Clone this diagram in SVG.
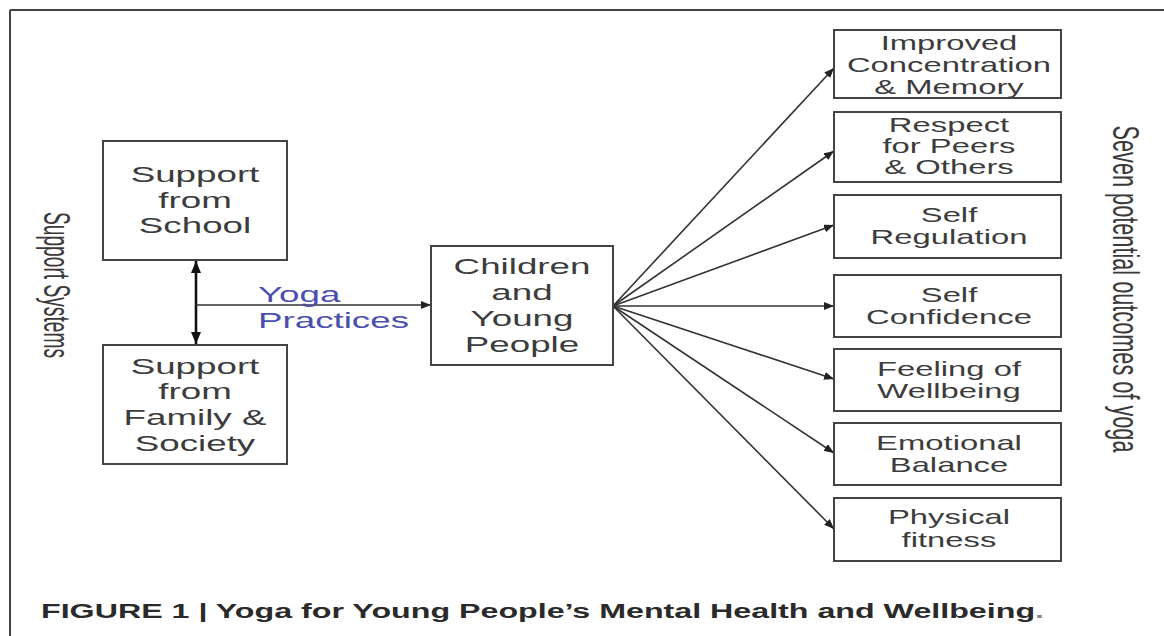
<svg xmlns="http://www.w3.org/2000/svg" width="1164" height="636" viewBox="0 0 1164 636">
  <style>
    .box { fill: #ffffff; stroke: #444444; stroke-width: 2; }
    .lbl { font-family: "Liberation Sans", Arial, sans-serif; fill: #3c3c3c; text-anchor: middle; }
    .big { font-size: 22px; }
    .small { font-size: 20px; }
    .yoga { font-family: "Liberation Sans", Arial, sans-serif; font-size: 22px; fill: #4a4fae; }
    .side { font-family: "Liberation Sans", Arial, sans-serif; font-size: 22px; fill: #3a3a3a; text-anchor: middle; }
    .cap { font-family: "Liberation Sans", Arial, sans-serif; font-size: 20px; font-weight: bold; fill: #2a2a2a; }
    .edge { stroke: #333333; stroke-width: 1.6; fill: none; }
    .frame { stroke: #444444; stroke-width: 2; fill: none; }
  </style>
  <defs>
    <marker id="arrow" viewBox="0 0 10 8" refX="10" refY="4" markerWidth="10" markerHeight="8" markerUnits="userSpaceOnUse" orient="auto">
      <path d="M0,0 L10,4 L0,8 Z" fill="#222222"/>
    </marker>
    <marker id="arrowBold" viewBox="0 0 12 10" refX="12" refY="5" markerWidth="12" markerHeight="10" markerUnits="userSpaceOnUse" orient="auto-start-reverse">
      <path d="M0,0 L12,5 L0,10 Z" fill="#111111"/>
    </marker>
  </defs>

  <rect x="0" y="0" width="1164" height="636" fill="#ffffff"/>

  <!-- figure frame (top and left rules) -->
  <g id="frame">
    <line class="frame" x1="10" y1="10" x2="1164" y2="10"/>
    <line class="frame" x1="10" y1="10" x2="10" y2="636"/>
  </g>

  <!-- side titles -->
  <text class="side" transform="translate(44,285) rotate(90) scale(1,1.67)" textLength="146" lengthAdjust="spacingAndGlyphs">Support Systems</text>
  <text class="side" transform="translate(1113,289) rotate(90) scale(1,1.67)" textLength="327" lengthAdjust="spacingAndGlyphs">Seven potential outcomes of yoga</text>

  <!-- connectors -->
  <g id="connectors">
    <line x1="196" y1="261" x2="196" y2="344" stroke="#111111" stroke-width="2.6" marker-start="url(#arrowBold)" marker-end="url(#arrowBold)"/>
    <line class="edge" x1="196" y1="305" x2="431" y2="305" marker-end="url(#arrow)"/>
    <line class="edge" x1="613" y1="306" x2="834" y2="68" marker-end="url(#arrow)"/>
    <line class="edge" x1="613" y1="306" x2="834" y2="151" marker-end="url(#arrow)"/>
    <line class="edge" x1="613" y1="306" x2="834" y2="225" marker-end="url(#arrow)"/>
    <line class="edge" x1="613" y1="306" x2="834" y2="306" marker-end="url(#arrow)"/>
    <line class="edge" x1="613" y1="306" x2="834" y2="379" marker-end="url(#arrow)"/>
    <line class="edge" x1="613" y1="306" x2="834" y2="453" marker-end="url(#arrow)"/>
    <line class="edge" x1="613" y1="306" x2="834" y2="529" marker-end="url(#arrow)"/>
    <text class="yoga" transform="translate(258,0) scale(1.67,1)"><tspan x="0" y="302">Yoga</tspan><tspan x="0" y="328">Practices</tspan></text>
  </g>

  <!-- support nodes -->
  <g id="school">
    <rect class="box" x="103" y="141" width="184" height="119"/>
    <text class="lbl big" transform="translate(195,0) scale(1.67,1)"><tspan x="0" y="182">Support</tspan><tspan x="0" y="208">from</tspan><tspan x="0" y="233">School</tspan></text>
  </g>
  <g id="family">
    <rect class="box" x="103" y="345" width="184" height="119"/>
    <text class="lbl big" transform="translate(195,0) scale(1.67,1)"><tspan x="0" y="374">Support</tspan><tspan x="0" y="399">from</tspan><tspan x="0" y="425">Family &amp;</tspan><tspan x="0" y="451">Society</tspan></text>
  </g>

  <!-- central node -->
  <g id="children">
    <rect class="box" x="431" y="246" width="182" height="119"/>
    <text class="lbl big" transform="translate(522,0) scale(1.67,1)"><tspan x="0" y="274">Children</tspan><tspan x="0" y="300">and</tspan><tspan x="0" y="326">Young</tspan><tspan x="0" y="352">People</tspan></text>
  </g>

  <!-- outcome nodes -->
  <g id="concentration">
    <rect class="box" x="834" y="30" width="227" height="68"/>
    <text class="lbl small" transform="translate(949,0) scale(1.64,1)"><tspan x="0" y="50">Improved</tspan><tspan x="0" y="72">Concentration</tspan><tspan x="0" y="94">&amp; Memory</tspan></text>
  </g>
  <g id="respect">
    <rect class="box" x="834" y="112" width="227" height="70"/>
    <text class="lbl small" transform="translate(949,0) scale(1.64,1)"><tspan x="0" y="132">Respect</tspan><tspan x="0" y="153">for Peers</tspan><tspan x="0" y="174">&amp; Others</tspan></text>
  </g>
  <g id="regulation">
    <rect class="box" x="834" y="195" width="227" height="63"/>
    <text class="lbl small" transform="translate(949,0) scale(1.64,1)"><tspan x="0" y="222">Self</tspan><tspan x="0" y="244">Regulation</tspan></text>
  </g>
  <g id="confidence">
    <rect class="box" x="834" y="275" width="227" height="62"/>
    <text class="lbl small" transform="translate(949,0) scale(1.64,1)"><tspan x="0" y="302">Self</tspan><tspan x="0" y="324">Confidence</tspan></text>
  </g>
  <g id="wellbeing">
    <rect class="box" x="834" y="349" width="227" height="62"/>
    <text class="lbl small" transform="translate(949,0) scale(1.64,1)"><tspan x="0" y="376">Feeling of</tspan><tspan x="0" y="398">Wellbeing</tspan></text>
  </g>
  <g id="emotional">
    <rect class="box" x="834" y="423" width="227" height="62"/>
    <text class="lbl small" transform="translate(949,0) scale(1.64,1)"><tspan x="0" y="450">Emotional</tspan><tspan x="0" y="472">Balance</tspan></text>
  </g>
  <g id="fitness">
    <rect class="box" x="834" y="498" width="227" height="63"/>
    <text class="lbl small" transform="translate(949,0) scale(1.64,1)"><tspan x="0" y="524">Physical</tspan><tspan x="0" y="547">fitness</tspan></text>
  </g>

  <!-- caption -->
  <text class="cap" x="41" y="618" textLength="1003" lengthAdjust="spacingAndGlyphs">FIGURE 1 | Yoga for Young People’s Mental Health and Wellbeing<tspan fill="#888888">.</tspan></text>
</svg>
